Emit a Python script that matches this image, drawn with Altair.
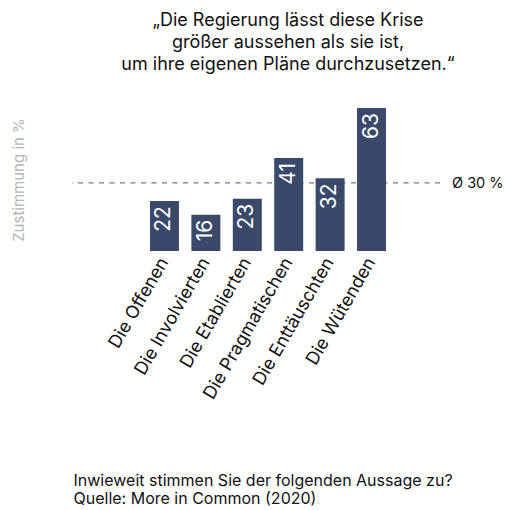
import altair as alt
import pandas as pd

categories = ["Die Offenen", "Die Involvierten", "Die Etablierten",
              "Die Pragmatischen", "Die Enttäuschten", "Die Wütenden"]
values = [22, 16, 23, 41, 32, 63]
average = [30]
avg_label = ["Ø 30 %"]
title_lines = ["„Die Regierung lässt diese Krise",
               "größer aussehen als sie ist,",
               "um ihre eigenen Pläne durchzusetzen.“"]
footer_lines = ["Inwieweit stimmen Sie der folgenden Aussage zu?",
                "Quelle: More in Common (2020)"]
y_title = "Zustimmung in %"

FONT = "Inter"
BAR = "#3a4969"
TXT = "#111111"

df = pd.DataFrame({"cat": categories, "val": values})
avg_df = pd.DataFrame({"val": average, "label": avg_label})

x_enc = alt.X(
    "cat:N", sort=categories,
    scale=alt.Scale(paddingInner=0.3, paddingOuter=0, range=[78, 314]),
    axis=alt.Axis(
        title=footer_lines, labelAngle=-60, labelAlign="right",
        labelBaseline="middle", labelFontSize=18, labelPadding=8,
        labelColor=TXT, labelFont=FONT, ticks=False, domain=False,
        titleAnchor="start", titleAlign="left", titleBaseline="top",
        titleX=1, titleY=221, titleFontSize=16, titleFontWeight="normal",
        titleLineHeight=18, titleColor=TXT, titleFont=FONT,
    ),
)
y_enc = alt.Y(
    "val:Q", scale=alt.Scale(domain=[0, 63], nice=False),
    axis=alt.Axis(
        title=y_title, labels=False, ticks=False, domain=False, grid=False,
        titleColor="#b5b5b5", titleFontSize=15, titleFontWeight="normal",
        titlePadding=46, titleFont=FONT,
    ),
)

bars = alt.Chart(df).mark_bar(color=BAR).encode(x=x_enc, y=y_enc)

bar_text = alt.Chart(df).mark_text(
    angle=270, align="right", baseline="middle", dx=-5,
    color="white", fontSize=21, font=FONT,
).encode(x=x_enc, y=y_enc, text="val:Q")

rule = alt.Chart(avg_df).mark_rule(
    color="#6d7690", strokeDash=[5, 5.5], strokeWidth=1.3
).encode(y=y_enc)

rule_text = alt.Chart(avg_df).mark_text(
    x="width", dx=12, dy=1, align="left", baseline="middle",
    fontSize=14.5, color=TXT, font=FONT,
).encode(y=y_enc, text="label:N")

chart = alt.layer(rule, bars, bar_text, rule_text).properties(
    width=368, height=143,
    padding={"left": 64, "top": 100, "right": 63, "bottom": 256},
    autosize="none",
    title=alt.TitleParams(
        text=title_lines, anchor="middle", dx=32, dy=-30, fontSize=18,
        fontWeight="normal", lineHeight=22, font=FONT, color=TXT,
    ),
).configure_view(stroke=None)

chart.save("out.html", embed_options={"renderer": "svg", "actions": False})
